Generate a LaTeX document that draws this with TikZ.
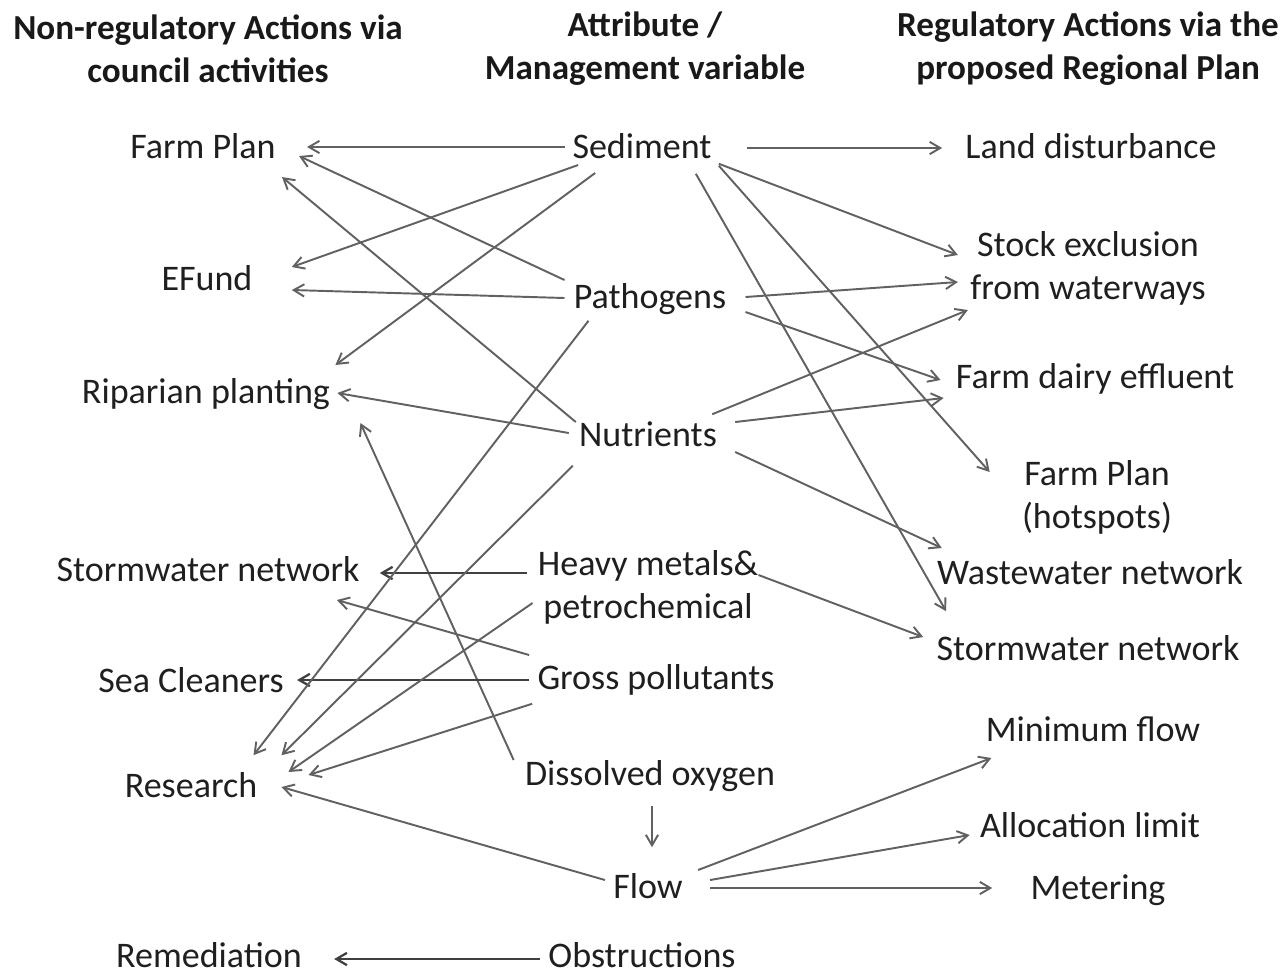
\documentclass[tikz,border=0pt]{standalone}
\usepackage{fontspec}
\setmainfont{Carlito}
\usetikzlibrary{arrows.meta}

\tikzset{
  lbl/.style={inner sep=0pt, text height=13pt, text depth=0pt, text=black!88,
    font=\fontsize{20.5}{24.5}\selectfont},
  lbltwo/.style={inner sep=0pt, align=center, text=black!88,
    font=\fontsize{20.5}{24.5}\selectfont},
  hdr/.style={inner sep=0pt, align=center, text=black!90,
    font=\fontsize{20}{24.5}\selectfont\bfseries},
  arr/.style={draw=black!62, line width=1.1pt, -{Straight Barb[length=6pt,width=7pt]}},
  arrdark/.style={arr, draw=black!75, line width=1.3pt},
}

\begin{document}
\begin{tikzpicture}[x=0.02cm, y=-0.02cm]
\useasboundingbox (0,0) rectangle (1281,975);

% column headings
\node[hdr] (hL) at (208,49) {Non-regulatory Actions via\\council activities};
\node[hdr] (hM) at (645,49) {Attribute /\\Management variable};
\node[hdr] (hR) at (1088,49) {Regulatory Actions via the\\proposed Regional Plan};

% non-regulatory actions
\node[lbl] (fpL) at (203,147) {Farm Plan};
\node[lbl] (efund) at (207,279) {EFund};
\node[lbl] (rip) at (206,392) {Riparian planting};
\node[lbl] (swL) at (208,570) {Stormwater network};
\node[lbl] (sea) at (191,681) {Sea Cleaners};
\node[lbl] (res) at (191,786) {Research};
\node[lbl] (rem) at (209,956) {Remediation};

% attributes
\node[lbl] (sed) at (642,147) {Sediment};
\node[lbl] (patho) at (650,297) {Pathogens};
\node[lbl] (nut) at (648,435) {Nutrients};
\node[lbltwo] (metal) at (648,587) {Heavy metals\&\\petrochemical};
\node[lbl] (gross) at (656,678) {Gross pollutants};
\node[lbl] (dox) at (650,774) {Dissolved oxygen};
\node[lbl] (flow) at (648,887) {Flow};
\node[lbl] (obs) at (642,956) {Obstructions};

% regulatory actions
\node[lbl] (land) at (1091,147) {Land disturbance};
\node[lbltwo] (stock) at (1088,268) {Stock exclusion\\from waterways};
\node[lbl] (dairy) at (1095,377) {Farm dairy effluent};
\node[lbltwo] (fpR) at (1097,497) {Farm Plan\\(hotspots)};
\node[lbl] (ww) at (1090,573) {Wastewater network};
\node[lbl] (swR) at (1088,649) {Stormwater network};
\node[lbl] (minf) at (1093,730) {Minimum flow};
\node[lbl] (alloc) at (1090,826) {Allocation limit};
\node[lbl] (meter) at (1098,888) {Metering};

% to the left
\draw[arr] ([shift={(-7,0)}]sed.west) -- ([shift={(31,0)}]fpL.east);
\draw[arr] ([shift={(-9,-17)}]patho.west) -- ([shift={(23,9)}]fpL.east);
\draw[arr] ([shift={(-3,-13)}]nut.west) -- ([shift={(6,30)}]fpL.east);
\draw[arr] ([shift={(6,18)}]sed.west) -- ([shift={(39,-12)}]efund.east);
\draw[arr] ([shift={(-9,1)}]patho.west) -- ([shift={(39,11)}]efund.east);
\draw[arr] ([shift={(23,26)}]sed.west) -- ([shift={(5,-27)}]rip.east);
\draw[arr] ([shift={(-10,-2)}]nut.west) -- ([shift={(7,1)}]rip.east);
\draw[arr] ([shift={(-11,-14)}]dox.west) -- ([shift={(30,31)}]rip.east);
\draw[arrdark] ([shift={(-11,-14)}]metal.west) -- ([shift={(20,3)}]swL.east);
\draw[arr] ([shift={(-8,-23)}]gross.west) -- ([shift={(-23,30)}]swL.east);
\draw[arrdark] ([shift={(-8,2)}]gross.west) -- ([shift={(13,-1)}]sea.east);
\draw[arr] ([shift={(15,12)}]patho.south west) -- ([shift={(-4,-19)}]res.north east);
\draw[arr] ([shift={(-6,19)}]nut.south west) -- ([shift={(24,-19)}]res.north east);
\draw[arr] ([shift={(-5,16)}]metal.west) -- ([shift={(31,-14)}]res.east);
\draw[arr] ([shift={(-5,14)}]gross.south west) -- ([shift={(51,-11)}]res.east);
\draw[arr] ([shift={(-8,-7)}]flow.west) -- ([shift={(24,1)}]res.east);
\draw[arrdark] ([shift={(-8,3)}]obs.west) -- ([shift={(32,3)}]rem.east);
\draw[arr] ([shift={(2,20)}]dox.south) -- ([shift={(4,-28)}]flow.north);

% to the right
\draw[arr] ([shift={(35,1)}]sed.east) -- ([shift={(-23,1)}]land.west);
\draw[arr] ([shift={(7,5)}]sed.south east) -- ([shift={(-12,-13)}]stock.west);
\draw[arr] ([shift={(7,7)}]sed.south east) -- ([shift={(-32,-25)}]fpR.west);
\draw[arr] ([shift={(-16,15)}]sed.south east) -- ([shift={(10,-26)}]swR.north west);
\draw[arr] ([shift={(19,0)}]patho.east) -- ([shift={(-12,14)}]stock.west);
\draw[arr] ([shift={(19,15)}]patho.east) -- ([shift={(-15,3)}]dairy.west);
\draw[arr] ([shift={(-5,-9)}]nut.north east) -- ([shift={(-2,42)}]stock.west);
\draw[arr] ([shift={(18,-13)}]nut.east) -- ([shift={(-12,21)}]dairy.west);
\draw[arr] ([shift={(18,17)}]nut.east) -- ([shift={(5,-25)}]ww.west);
\draw[arr] ([shift={(0,-12)}]metal.east) -- ([shift={(-13,-12)}]swR.west);
\draw[arr] ([shift={(15,-17)}]flow.east) -- ([shift={(6,28)}]minf.west);
\draw[arr] ([shift={(27,-7)}]flow.east) -- ([shift={(-10,9)}]alloc.west);
\draw[arr] ([shift={(27,1)}]flow.east) -- ([shift={(-38,0)}]meter.west);

\end{tikzpicture}
\end{document}
